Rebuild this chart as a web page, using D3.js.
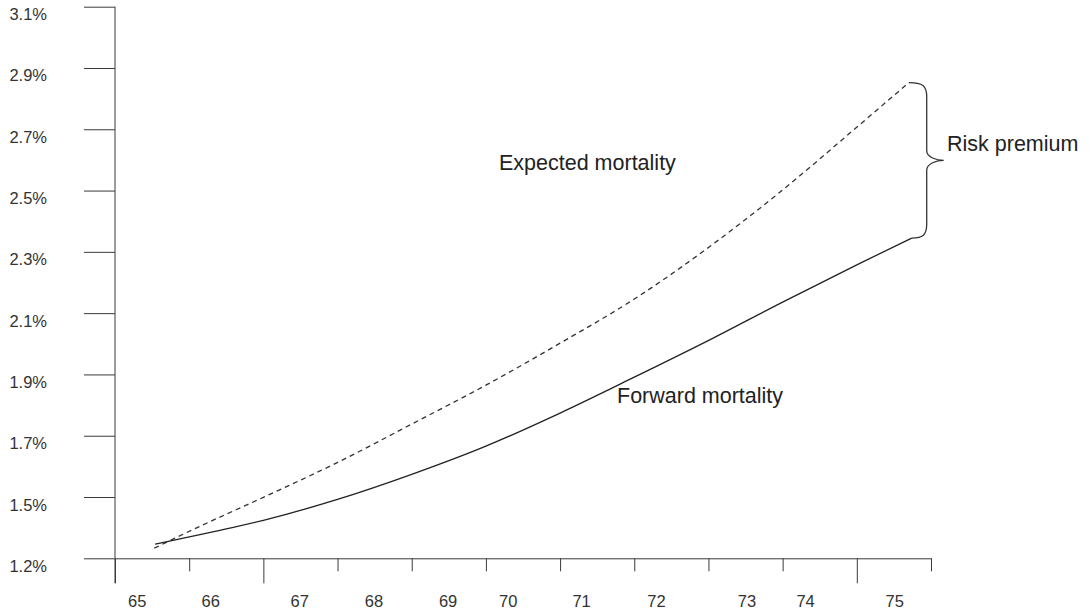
<!DOCTYPE html>
<html>
<head>
<meta charset="utf-8">
<script src="https://cdn.jsdelivr.net/npm/d3@7"></script>
<style>
    body { margin: 0; background: #fff; }
    svg { display: block; font-family: "Liberation Sans", Arial, sans-serif; }
</style>
</head>
<body>
<div id="chart-area"></div>
<script>
// DATA
// x is measured in tick slots (12 ticks, 0..11), y in percent
var yTickValues = [1.25, 1.45, 1.65, 1.85, 2.05, 2.25, 2.45, 2.65, 2.85, 3.05];
var yTickLabels = ["1.2%", "1.5%", "1.7%", "1.9%", "2.1%", "2.3%", "2.5%", "2.7%", "2.9%", "3.1%"];

var xTickSlots = [0, 1, 2, 3, 4, 5, 6, 7, 8, 9, 10, 11];
var xLongTicks = [0, 2, 10];
var xLabels = ["65", "66", "67", "68", "69", "70", "71", "72", "73", "74", "75"];
var xLabelSlots = [0.30, 1.29, 2.49, 3.49, 4.49, 5.30, 6.29, 7.30, 8.52, 9.31, 10.51];

var expectedX = [0.53, 1.15, 2.0, 3.01, 4.0, 5.0, 6.0, 7.0, 8.01, 9.0, 10.02, 10.70];
var expectedY = [1.283, 1.355, 1.449, 1.564, 1.688, 1.815, 1.952, 2.096, 2.266, 2.452, 2.661, 2.802];

var forwardX = [0.54, 1.35, 2.0, 3.01, 4.0, 5.0, 6.0, 7.0, 8.01, 9.0, 10.02, 10.74];
var forwardY = [1.296, 1.338, 1.374, 1.443, 1.524, 1.616, 1.724, 1.841, 1.962, 2.086, 2.210, 2.295];

var expected = expectedX.map((d, i) => ({ x: d, y: expectedY[i] }));
var forward = forwardX.map((d, i) => ({ x: d, y: forwardY[i] }));

var axisColor = "#3a3a3a";
var textColor = "#222";

var svg = d3.select("#chart-area").append("svg")
    .attr("width", 1090)
    .attr("height", 616);

// Scales
var x = d3.scaleLinear().domain([0, 11]).range([115, 931]);
var y = d3.scaleLinear().domain([1.25, 3.05]).range([558.3, 6.7]);

// Y axis
var yAxis = svg.append("g")
    .attr("transform", "translate(" + x(0) + ",0)")
    .call(d3.axisLeft(y)
        .tickValues(yTickValues)
        .tickFormat((d, i) => yTickLabels[i])
        .tickSize(31)
        .tickSizeOuter(0)
        .tickPadding(37));

yAxis.select(".domain").remove();
yAxis.selectAll("line").attr("stroke", axisColor);
yAxis.selectAll("text")
    .attr("dy", null)
    .attr("y", 13)
    .attr("fill", "#333")
    .style("font-size", "16.5px");

// vertical axis line runs a bit below the x axis
svg.append("line")
    .attr("x1", x(0)).attr("x2", x(0))
    .attr("y1", y(3.05)).attr("y2", y(1.25) + 25)
    .attr("stroke", axisColor);

// X axis
var xAxis = svg.append("g")
    .attr("transform", "translate(0," + y(1.25) + ")")
    .call(d3.axisBottom(x)
        .tickValues(xTickSlots)
        .tickFormat("")
        .tickSize(13)
        .tickSizeOuter(0));

xAxis.select(".domain").attr("stroke", axisColor);
xAxis.selectAll("line")
    .attr("stroke", axisColor)
    .attr("y2", d => xLongTicks.includes(d) ? 25 : 13);

svg.append("g")
    .selectAll("text")
    .data(xLabels)
    .enter().append("text")
    .attr("x", (d, i) => x(xLabelSlots[i]))
    .attr("y", y(1.25) + 48.5)
    .attr("text-anchor", "middle")
    .attr("fill", "#333")
    .style("font-size", "16.5px")
    .text(d => d);

// Lines
var line = d3.line()
    .x(d => x(d.x))
    .y(d => y(d.y))
    .curve(d3.curveMonotoneX);

svg.append("path")
    .datum(expected)
    .attr("fill", "none")
    .attr("stroke", "#333")
    .attr("stroke-width", 1.3)
    .attr("stroke-dasharray", "5,4")
    .attr("d", line);

svg.append("path")
    .datum(forward)
    .attr("fill", "none")
    .attr("stroke", "#222")
    .attr("stroke-width", 1.3)
    .attr("d", line);

// Brace between the two line ends
var e = expected[expected.length - 1];
var f = forward[forward.length - 1];
var bx0 = x(e.x), by0 = y(e.y);
var bx1 = x(f.x), by1 = y(f.y);
var bx = bx1 + 15;
var bmid = (by0 + by1) / 2;
var brace = d3.path();
brace.moveTo(bx0, by0);
brace.bezierCurveTo(bx - 4, by0, bx, by0 + 3, bx, by0 + 14);
brace.lineTo(bx, bmid - 10);
brace.bezierCurveTo(bx, bmid - 3, bx + 10, bmid, bx + 17, bmid);
brace.bezierCurveTo(bx + 10, bmid, bx, bmid + 3, bx, bmid + 10);
brace.lineTo(bx, by1 - 14);
brace.bezierCurveTo(bx, by1 - 3, bx - 4, by1, bx1, by1);

svg.append("path")
    .attr("d", brace.toString())
    .attr("fill", "none")
    .attr("stroke", "#333")
    .attr("stroke-width", 1.3);

// Annotations
var notes = [
    { text: "Expected mortality", x: 499, y: 170 },
    { text: "Forward mortality", x: 617, y: 403 },
    { text: "Risk premium", x: 947, y: 151 }
];

svg.append("g")
    .selectAll("text")
    .data(notes)
    .enter().append("text")
    .attr("x", d => d.x)
    .attr("y", d => d.y)
    .attr("fill", textColor)
    .style("font-size", "21.5px")
    .text(d => d.text);
</script>
</body>
</html>
